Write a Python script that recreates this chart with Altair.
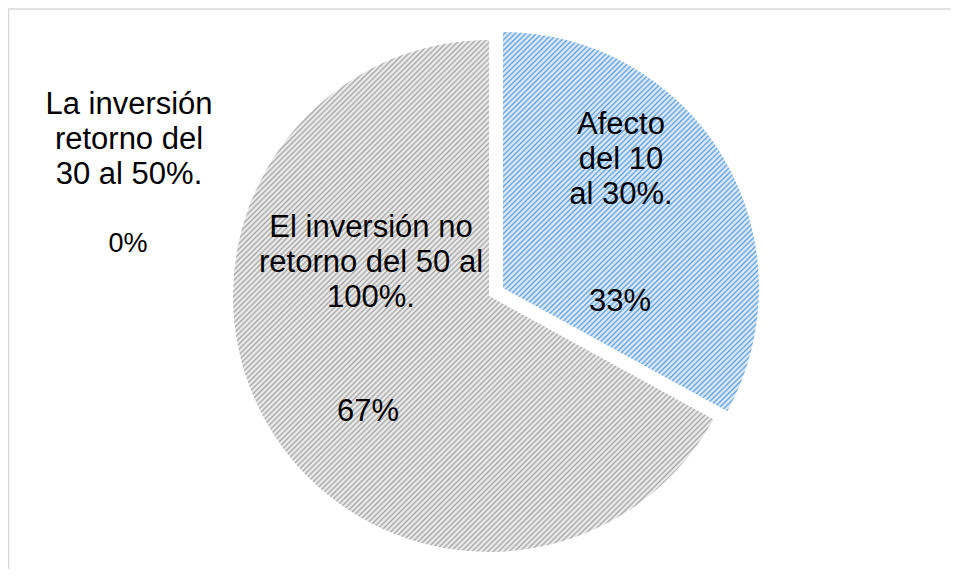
import altair as alt
import pandas as pd

# ---- data ----
categories = [
    "Afecto del 10 al 30%.",
    "La inversión retorno del 30 al 50%.",
    "El inversión no retorno del 50 al 100%.",
]
values = [33, 0, 67]
slice_order = [0, 1, 2]
name_labels = [
    "Afecto\ndel 10\nal 30%.",
    "La inversión\nretorno del\n30 al 50%.",
    "El inversión no\nretorno del 50 al\n100%.",
]
pct_labels = ["33%", "0%", "67%"]

df = pd.DataFrame({
    "cat": categories,
    "value": values,
    "order": slice_order,
    "name": name_labels,
    "pct": pct_labels,
})

# ---- styling helper: soft diagonal hatch via a many-stop linear gradient ----
def stripes(bg, fg, n, x2, y2):
    stops = [alt.GradientStop(color=bg, offset=0.0)]
    for k in range(n):
        stops += [
            alt.GradientStop(color=bg, offset=(k + 0.25) / n),
            alt.GradientStop(color=fg, offset=(k + 0.6) / n),
            alt.GradientStop(color=bg, offset=min((k + 0.95) / n, 1.0)),
        ]
    stops.append(alt.GradientStop(color=bg, offset=1.0))
    return alt.LinearGradient(gradient="linear", stops=stops, x1=0, y1=0, x2=x2, y2=y2)

grey_fill = stripes("#E9E9E9", "#A6A6A6", 194, 1, 1.0718)
blue_fill = stripes("#D9E8F7", "#62A0DA", 157, 1, 1.5)

R = 256
CX, CY = 481, 288
EXPLODE_DX, EXPLODE_DY = 14, -8

base = alt.Chart(df)
theta = alt.Theta("value:Q", stack=True)
order = alt.Order("order:Q")

grey_arc = base.mark_arc(radius=R, fill=grey_fill).encode(
    theta=theta,
    order=order,
    fillOpacity=alt.condition(alt.datum.order == 2, alt.value(1), alt.value(0)),
    x=alt.value(CX),
    y=alt.value(CY),
)

blue_arc = base.mark_arc(radius=R, fill=blue_fill).encode(
    theta=theta,
    order=order,
    fillOpacity=alt.condition(alt.datum.order == 0, alt.value(1), alt.value(0)),
    x=alt.value(CX + EXPLODE_DX),
    y=alt.value(CY + EXPLODE_DY),
)

FONT = "Liberation Sans"
name_pos = {0: (613, 117), 1: (121, 97), 2: (363, 220)}
pct_pos = {0: (612, 294), 1: (120, 236), 2: (360, 404)}
pct_size = {0: 31, 1: 27, 2: 31}

text_layers = []
for i in slice_order:
    nx, ny = name_pos[i]
    text_layers.append(
        base.transform_filter(alt.datum.order == i)
        .mark_text(font=FONT, fontSize=31, lineBreak="\n", lineHeight=35,
                   align="center", baseline="middle", color="#000000")
        .encode(text="name:N", x=alt.value(nx), y=alt.value(ny))
    )
    px, py = pct_pos[i]
    text_layers.append(
        base.transform_filter(alt.datum.order == i)
        .mark_text(font=FONT, fontSize=pct_size[i], align="center",
                   baseline="middle", color="#000000")
        .encode(text="pct:N", x=alt.value(px), y=alt.value(py))
    )

frame_df = pd.DataFrame({"k": [0]})
top_rule = alt.Chart(frame_df).mark_rule(color="#D9D9D9", strokeWidth=1.5).encode(
    x=alt.value(0), x2=alt.value(943), y=alt.value(1)
)
left_rule = alt.Chart(frame_df).mark_rule(color="#D9D9D9", strokeWidth=1.5).encode(
    x=alt.value(0.5), y=alt.value(1), y2=alt.value(561)
)

chart = alt.layer(top_rule, left_rule, grey_arc, blue_arc, *text_layers).properties(
    width=943, height=561, autosize="none", padding=0
).configure_view(stroke=None)

chart.save("out.html", embed_options={"renderer": "svg", "actions": False})
